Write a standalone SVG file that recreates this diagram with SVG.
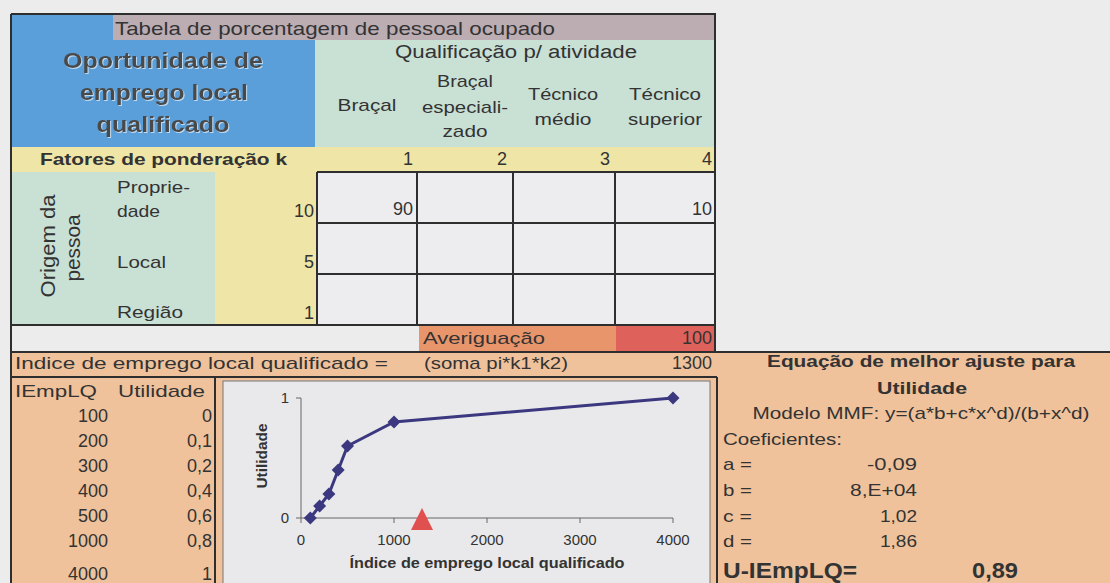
<svg xmlns="http://www.w3.org/2000/svg" width="1110" height="583" viewBox="0 0 1110 583">
<style>
text{font-family:"Liberation Sans",Arial,sans-serif;fill:#333;font-size:17px}
.b{font-weight:bold}
.e{text-anchor:end}
.m{text-anchor:middle}
.n{font-size:18px}
.blue{font-size:22px;font-weight:bold;fill:#4a4a4a}
.grid{fill:none;stroke:#2e2e2e;stroke-width:2}
.frame{stroke:#2e2e2e;stroke-width:2;fill:none}
.ax{stroke:#666;stroke-width:1;fill:none}
.ct{font-size:15px}
</style>
<defs>
<filter id="sh" x="-5%" y="-5%" width="110%" height="120%">
<feDropShadow dx="1" dy="1" stdDeviation="0.6" flood-color="#ffffff" flood-opacity="0.6"/>
</filter>
<path id="dia" d="M0,-6.5 L6.5,0 L0,6.5 L-6.5,0 Z" fill="#3b3880"/>
</defs>
<rect width="1110" height="583" fill="#ececec"/>

<g id="header">
<rect x="12" y="15" width="303" height="132" fill="#5a9fda"/>
<rect x="113" y="15" width="602" height="25" fill="#bcadb3"/>
<rect x="315" y="40" width="400" height="107" fill="#c9e0d5"/>
<text x="115" y="35" textLength="440" lengthAdjust="spacingAndGlyphs" style="font-size:19px">Tabela de porcentagem de pessoal ocupado</text>
<g filter="url(#sh)">
<text class="blue m" x="163" y="68" textLength="200" lengthAdjust="spacingAndGlyphs">Oportunidade de</text>
<text class="blue m" x="164" y="100" textLength="168" lengthAdjust="spacingAndGlyphs">emprego local</text>
<text class="blue m" x="163" y="132" textLength="133" lengthAdjust="spacingAndGlyphs">qualificado</text>
</g>
<text class="m" x="516" y="58" textLength="242" lengthAdjust="spacingAndGlyphs" style="font-size:18px">Qualificação p/ atividade</text>
<text class="m" x="367" y="111" textLength="59" lengthAdjust="spacingAndGlyphs">Braçal</text>
<text class="m" x="465" y="87" textLength="56" lengthAdjust="spacingAndGlyphs">Braçal</text>
<text class="m" x="465" y="113" textLength="86" lengthAdjust="spacingAndGlyphs">especiali-</text>
<text class="m" x="465" y="137" textLength="45" lengthAdjust="spacingAndGlyphs">zado</text>
<text class="m" x="563" y="100" textLength="70" lengthAdjust="spacingAndGlyphs">Técnico</text>
<text class="m" x="563" y="125" textLength="57" lengthAdjust="spacingAndGlyphs">médio</text>
<text class="m" x="665" y="100" textLength="72" lengthAdjust="spacingAndGlyphs">Técnico</text>
<text class="m" x="665" y="125" textLength="74" lengthAdjust="spacingAndGlyphs">superior</text>
</g>

<g id="weights">
<rect x="12" y="147" width="703" height="25" fill="#eee5a6"/>
<rect x="215" y="172" width="102" height="153" fill="#eee5a6"/>
<rect x="12" y="172" width="203" height="153" fill="#c9e0d5"/>
<text class="b" x="40" y="165" textLength="247" lengthAdjust="spacingAndGlyphs">Fatores de ponderação k</text>
<text class="e n" x="413" y="165">1</text>
<text class="e n" x="507" y="165">2</text>
<text class="e n" x="610" y="165">3</text>
<text class="e n" x="712" y="165">4</text>
<text class="m" transform="translate(55,246) rotate(-90)" style="font-size:21px" textLength="103" lengthAdjust="spacingAndGlyphs">Origem da</text>
<text class="m" transform="translate(80,248) rotate(-90)" style="font-size:21px" textLength="67" lengthAdjust="spacingAndGlyphs">pessoa</text>
<text x="117" y="193" textLength="73" lengthAdjust="spacingAndGlyphs">Proprie-</text>
<text x="117" y="217" textLength="43" lengthAdjust="spacingAndGlyphs">dade</text>
<text x="117" y="268" textLength="49" lengthAdjust="spacingAndGlyphs">Local</text>
<text x="117" y="318" textLength="66" lengthAdjust="spacingAndGlyphs">Região</text>
<text class="e n" x="314" y="217">10</text>
<text class="e n" x="314" y="268">5</text>
<text class="e n" x="314" y="319">1</text>
</g>

<g id="grid">
<rect x="317" y="172" width="398" height="153" fill="#ededef"/>
<path class="grid" d="M317,172H715M317,223H715M317,274H715M12,325H715M317,172V325M417,172V325M513,172V325M615,172V325"/>
<text class="e n" x="413" y="215">90</text>
<text class="e n" x="712" y="215">10</text>
</g>

<g id="check">
<rect x="419" y="326" width="197" height="25" fill="#e9956c"/>
<rect x="616" y="326" width="99" height="25" fill="#df615c"/>
<text x="423" y="344" textLength="122" lengthAdjust="spacingAndGlyphs">Averiguação</text>
<text class="e n" x="712" y="344">100</text>
</g>

<g id="index">
<rect x="12" y="352" width="1098" height="231" fill="#efc29c"/>
<text x="15" y="369" textLength="373" lengthAdjust="spacingAndGlyphs">Indice de emprego local qualificado =</text>
<text x="424" y="369" textLength="144" lengthAdjust="spacingAndGlyphs">(soma pi*k1*k2)</text>
<text class="e n" x="712" y="369">1300</text>
</g>

<g id="table">
<text x="15" y="397" textLength="82" lengthAdjust="spacingAndGlyphs">IEmpLQ</text>
<text x="118" y="397" textLength="87" lengthAdjust="spacingAndGlyphs">Utilidade</text>
<text class="e n" x="108" y="422">100</text><text class="e n" x="212" y="422">0</text>
<text class="e n" x="108" y="447">200</text><text class="e n" x="212" y="447">0,1</text>
<text class="e n" x="108" y="472">300</text><text class="e n" x="212" y="472">0,2</text>
<text class="e n" x="108" y="497">400</text><text class="e n" x="212" y="497">0,4</text>
<text class="e n" x="108" y="522">500</text><text class="e n" x="212" y="522">0,6</text>
<text class="e n" x="108" y="547">1000</text><text class="e n" x="212" y="547">0,8</text>
<text class="e n" x="108" y="580">4000</text><text class="e n" x="212" y="580">1</text>
</g>

<g id="chart">
<rect x="223" y="381" width="487" height="205" fill="#e9e9eb" stroke="#777" stroke-width="1"/>
<path class="ax" d="M301,398V518H673M296,398H301M296,518H301M301,518V523M394,518V523M487,518V523M580,518V523M673,518V523"/>
<text class="e ct" x="289" y="403">1</text>
<text class="e ct" x="289" y="523">0</text>
<text class="m ct" x="301" y="545">0</text>
<text class="m ct" x="394" y="545">1000</text>
<text class="m ct" x="487" y="545">2000</text>
<text class="m ct" x="580" y="545">3000</text>
<text class="m ct" x="673" y="545">4000</text>
<text class="m b" x="487" y="568" style="font-size:14px" textLength="275" lengthAdjust="spacingAndGlyphs">Índice de emprego local qualificado</text>
<text class="m b" transform="translate(267,456) rotate(-90)" style="font-size:15px" textLength="65" lengthAdjust="spacingAndGlyphs">Utilidade</text>
<polyline points="310.3,518 319.6,506 328.9,494 338.2,470 347.5,446 394,422 673,398" fill="none" stroke="#3b3880" stroke-width="3"/>
<use href="#dia" x="310.3" y="518"/>
<use href="#dia" x="319.6" y="506"/>
<use href="#dia" x="328.9" y="494"/>
<use href="#dia" x="338.2" y="470"/>
<use href="#dia" x="347.5" y="446"/>
<use href="#dia" x="394" y="422"/>
<use href="#dia" x="673" y="398"/>
<polygon points="422,508 433,530 411,530" fill="#e0504e"/>
</g>

<g id="fit">
<text class="m b" x="921" y="367" textLength="308" lengthAdjust="spacingAndGlyphs">Equação de melhor ajuste para</text>
<text class="m b" x="922" y="394" textLength="90" lengthAdjust="spacingAndGlyphs">Utilidade</text>
<text class="m" x="921" y="419" textLength="337" lengthAdjust="spacingAndGlyphs">Modelo MMF: y=(a*b+c*x^d)/(b+x^d)</text>
<text x="723" y="445" textLength="119" lengthAdjust="spacingAndGlyphs">Coeficientes:</text>
<text x="723" y="470" textLength="29" lengthAdjust="spacingAndGlyphs">a =</text><text class="e" x="917" y="470" textLength="50" lengthAdjust="spacingAndGlyphs">-0,09</text>
<text x="723" y="496" textLength="29" lengthAdjust="spacingAndGlyphs">b =</text><text class="e" x="917" y="496" textLength="67" lengthAdjust="spacingAndGlyphs">8,E+04</text>
<text x="723" y="522" textLength="29" lengthAdjust="spacingAndGlyphs">c =</text><text class="e" x="917" y="522" textLength="37" lengthAdjust="spacingAndGlyphs">1,02</text>
<text x="723" y="547" textLength="29" lengthAdjust="spacingAndGlyphs">d =</text><text class="e" x="917" y="547" textLength="37" lengthAdjust="spacingAndGlyphs">1,86</text>
<text class="b" x="723" y="578" style="font-size:22px" textLength="134" lengthAdjust="spacingAndGlyphs">U-IEmpLQ=</text>
<text class="b" x="972" y="578" style="font-size:22px" textLength="46" lengthAdjust="spacingAndGlyphs">0,89</text>
</g>

<g id="frame">
<path class="frame" d="M11,14H715V352M11,14V583M11,352H1110M11,377H717M215,377V583M717,377V583"/>
</g>
</svg>
